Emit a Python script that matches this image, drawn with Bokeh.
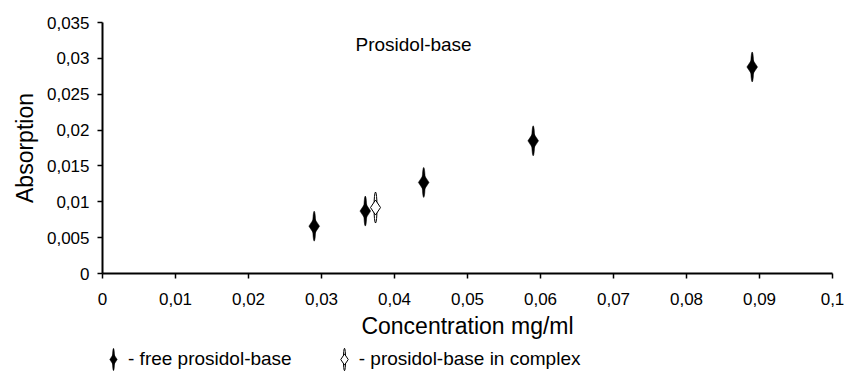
from bokeh.plotting import figure
from bokeh.layouts import column
from bokeh.models import (Range1d, FixedTicker, CustomJSTickFormatter, Label,
                          Legend, LegendItem, ColumnDataSource)
from bokeh.embed import file_html
from bokeh.resources import INLINE

# ---- data ----
free_x = [0.029, 0.036, 0.044, 0.059, 0.089]
free_y = [0.0066, 0.0087, 0.0127, 0.0185, 0.0288]
complex_x = [0.0374]
complex_y = [0.0092]
x_ticks = [0, 0.01, 0.02, 0.03, 0.04, 0.05, 0.06, 0.07, 0.08, 0.09, 0.1]
y_ticks = [0, 0.005, 0.01, 0.015, 0.02, 0.025, 0.03, 0.035]
legend_labels = ["- free prosidol-base", "- prosidol-base in complex"]

FONT = "Liberation Sans"

p = figure(width=844, height=345, output_backend="svg", toolbar_location=None,
           x_range=Range1d(0, 0.1), y_range=Range1d(0, 0.035),
           min_border_left=102, min_border_right=12, min_border_top=22,
           min_border_bottom=72)
p.outline_line_color = None
p.xgrid.visible = False
p.ygrid.visible = False
p.background_fill_color = "white"
p.border_fill_color = "white"

p.xaxis.ticker = FixedTicker(ticks=x_ticks)
p.yaxis.ticker = FixedTicker(ticks=y_ticks)
p.xaxis.formatter = CustomJSTickFormatter(code="""
    let s = tick.toFixed(2).replace(/0+$/, '').replace(/\\.$/, '');
    return s.replace('.', ',');
""")
p.yaxis.formatter = CustomJSTickFormatter(code="""
    let s = tick.toFixed(3).replace(/0+$/, '').replace(/\\.$/, '');
    return s.replace('.', ',');
""")
for ax in (p.xaxis, p.yaxis):
    ax.axis_line_width = 2
    ax.axis_line_color = "black"
    ax.major_tick_line_color = "black"
    ax.major_tick_line_width = 1.5
    ax.major_tick_out = 5
    ax.major_tick_in = 0
    ax.minor_tick_line_color = None
    ax.major_label_text_font = FONT
    ax.major_label_text_font_size = "17px"
    ax.major_label_text_color = "black"
    ax.axis_label_text_font = FONT
    ax.axis_label_text_font_size = "23px"
    ax.axis_label_text_font_style = "normal"
    ax.axis_label_text_color = "black"

p.xaxis.axis_label = "Concentration mg/ml"
p.yaxis.axis_label = "Absorption"
p.xaxis.major_label_standoff = 14
p.yaxis.major_label_standoff = 8
p.xaxis.axis_label_standoff = 5
p.yaxis.axis_label_standoff = 6

src_free = ColumnDataSource(dict(x=free_x, y=free_y))
src_cpx = ColumnDataSource(dict(x=complex_x, y=complex_y))


def draw_markers(fig):
    # free prosidol-base: filled 4-point star (spike + diamond body)
    ef = fig.ellipse(x="x", y="y", width=3, height=30, width_units="screen",
                     height_units="screen", source=src_free,
                     fill_color="black", line_color="black", line_width=0.5)
    df = fig.scatter(x="x", y="y", marker="diamond", size=16, source=src_free,
                     fill_color="black", line_color="black", line_width=0.5)
    # prosidol-base in complex: hollow star
    ec = fig.ellipse(x="x", y="y", width=3, height=31, width_units="screen",
                     height_units="screen", source=src_cpx,
                     fill_color="white", line_color="black", line_width=1)
    dc = fig.scatter(x="x", y="y", marker="diamond", size=15, source=src_cpx,
                     fill_color="white", line_color="black", line_width=1)
    return ef, df, ec, dc


draw_markers(p)

title = Label(x=253, y=229, x_units="screen", y_units="screen",
              text="Prosidol-base", text_font=FONT, text_font_size="19px",
              text_baseline="middle", text_color="black")
p.add_layout(title)

# legend strip below the chart (its own renderers lie outside its ranges)
p2 = figure(width=844, height=31, output_backend="svg", toolbar_location=None,
            x_range=Range1d(1, 2), y_range=Range1d(1, 2),
            x_axis_location=None, y_axis_location=None,
            min_border_left=0, min_border_right=0, min_border_top=0,
            min_border_bottom=0)
p2.outline_line_color = None
p2.xgrid.visible = False
p2.ygrid.visible = False
ef, df, ec, dc = draw_markers(p2)

legend = Legend(items=[
    LegendItem(label=legend_labels[0], renderers=[ef, df]),
    LegendItem(label=legend_labels[1], renderers=[ec, dc]),
], location=(-4, 3), orientation="horizontal")
legend.glyph_width = 30
legend.glyph_height = 28
legend.label_standoff = -3
legend.spacing = 37
legend.padding = 0
legend.margin = 0
legend.border_line_color = None
legend.background_fill_alpha = 0
legend.label_text_font = FONT
legend.label_text_font_size = "19px"
legend.label_text_color = "black"
p2.add_layout(legend, "center")

open("out.html", "w").write(file_html(column(p, p2, spacing=0), INLINE))
